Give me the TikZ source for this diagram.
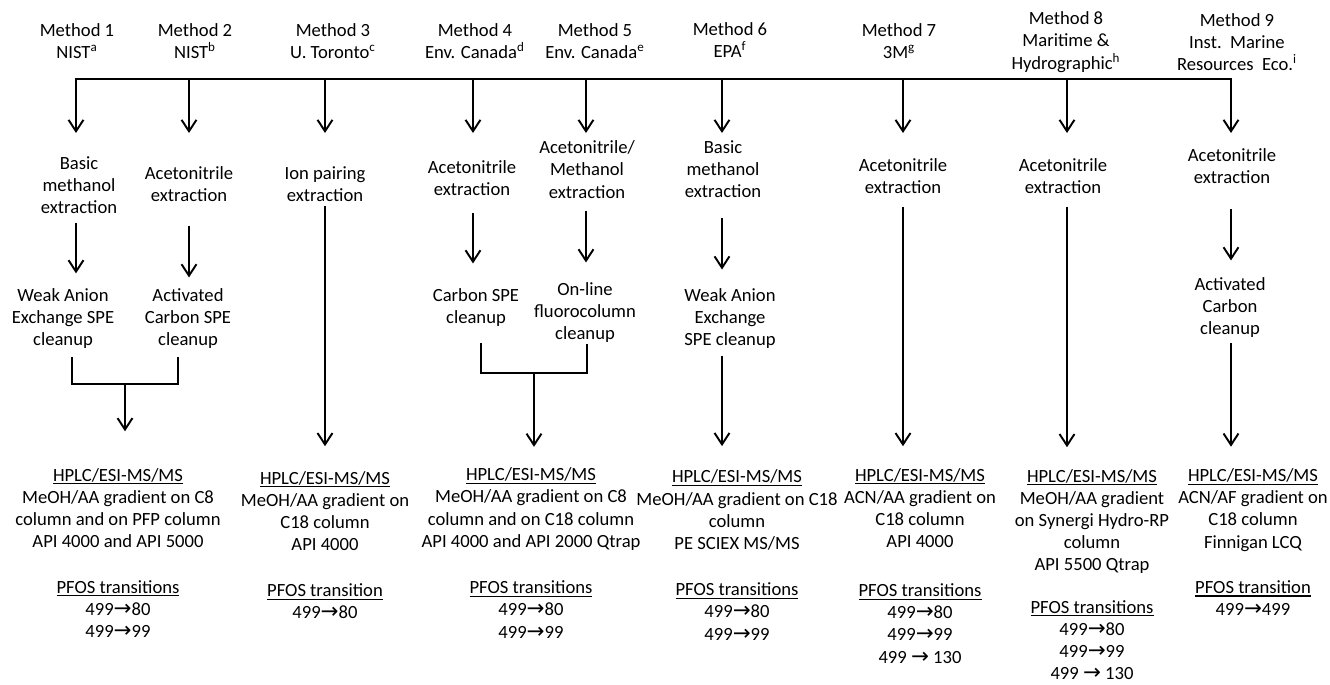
\documentclass[tikz,border=0pt]{standalone}
\usepackage{fontspec}
\setmainfont{Carlito}
\newfontfamily\arrowfont[Scale=1.15]{DejaVu Sans}
\usetikzlibrary{arrows.meta}
\newcommand{\undl}[1]{\setbox0=\hbox{#1}\rlap{\rule[-1.8pt]{\wd0}{0.7pt}}\box0}
\newcommand{\pfarrow}{{\arrowfont →}}
\begin{document}
\begin{tikzpicture}[x=0.02cm,y=-0.02cm,line width=1.1pt,
  txt/.style={align=center,inner sep=0pt,font=\fontsize{10.6}{12.6}\selectfont},
  arr/.style={-{Straight Barb[length=6.5pt,width=8.5pt]}}]
\useasboundingbox (0,0) rectangle (1330,684);
%methods
\node[txt] (h1) at (77,41) {Method 1\\NIST\textsuperscript{a}};
\node[txt] (h2) at (195,41) {Method 2\\NIST\textsuperscript{b}};
\node[txt] (h3) at (333,41) {Method 3\\U. Toronto\textsuperscript{c}};
\node[txt] (h4) at (475,41) {Method 4\\Env. Canada\textsuperscript{d}};
\node[txt] (h5) at (595,41) {Method 5\\Env. Canada\textsuperscript{e}};
\node[txt] (h6) at (730,40) {Method 6\\EPA\textsuperscript{f}};
\node[txt] (h7) at (899,41) {Method 7\\3M\textsuperscript{g}};
\node[txt] (h8) at (1066,42) {Method 8\\Maritime \&\\Hydrographic\textsuperscript{h}};
\node[txt] (h9) at (1237,42) {Method 9\\Inst.\ \ Marine\\Resources\ \ Eco.\textsuperscript{i}};
%extraction
\node[txt] (e1) at (79,185) {Basic\\methanol\\extraction};
\node[txt] (e2) at (189,184.5) {Acetonitrile\\extraction};
\node[txt] (e3) at (325,184.5) {Ion pairing\\extraction};
\node[txt] (e4) at (472,178.5) {Acetonitrile\\extraction};
\node[txt] (e5) at (587,169.5) {Acetonitrile/\\Methanol\\extraction};
\node[txt] (e6) at (723,169.5) {Basic\\methanol\\extraction};
\node[txt] (e7) at (903,176) {Acetonitrile\\extraction};
\node[txt] (e8) at (1063,176) {Acetonitrile\\extraction};
\node[txt] (e9) at (1232,166.5) {Acetonitrile\\extraction};
%cleanup
\node[txt] (c1) at (63,318.5) {Weak Anion\\Exchange SPE\\cleanup};
\node[txt] (c2) at (188,318.5) {Activated\\Carbon SPE\\cleanup};
\node[txt] (c4) at (476,307.5) {Carbon SPE\\cleanup};
\node[txt] (c5) at (585,312.5) {On-line\\fluorocolumn\\cleanup};
\node[txt] (c6) at (730,318.5) {Weak Anion\\Exchange\\SPE cleanup};
\node[txt] (c9) at (1230,307.5) {Activated\\Carbon\\cleanup};
%hplc
\node[txt] (p12) at (118,508) {\undl{HPLC/ESI-MS/MS}\\MeOH/AA gradient on C8\\column and on PFP column\\API 4000 and API 5000};
\node[txt] (p3) at (325,511) {\undl{HPLC/ESI-MS/MS}\\MeOH/AA gradient on\\C18 column\\API 4000};
\node[txt] (p45) at (531,509) {\undl{HPLC/ESI-MS/MS}\\MeOH/AA gradient on C8\\column and on C18 column\\API 4000 and API 2000 Qtrap};
\node[txt] (p6) at (737,510) {\undl{HPLC/ESI-MS/MS}\\MeOH/AA gradient on C18\\column\\PE SCIEX MS/MS};
\node[txt] (p7) at (920,508) {\undl{HPLC/ESI-MS/MS}\\ACN/AA gradient on\\C18 column\\API 4000};
\node[txt] (p8) at (1092,521.5) {\undl{HPLC/ESI-MS/MS}\\MeOH/AA gradient\\on Synergi Hydro-RP\\column\\API 5500 Qtrap};
\node[txt] (p9) at (1253,510) {\undl{HPLC/ESI-MS/MS}\\ACN/AF gradient on\\C18 column\\Finnigan LCQ};
%transitions
\node[txt] (q12) at (118,609) {\undl{PFOS transitions}\\499\pfarrow80\\499\pfarrow99};
\node[txt] (q3) at (325,601.5) {\undl{PFOS transition}\\499\pfarrow80};
\node[txt] (q45) at (531,609.5) {\undl{PFOS transitions}\\499\pfarrow80\\499\pfarrow99};
\node[txt] (q6) at (737,611.5) {\undl{PFOS transitions}\\499\pfarrow80\\499\pfarrow99};
\node[txt] (q7) at (920,623.5) {\undl{PFOS transitions}\\499\pfarrow80\\499\pfarrow99\\499 \pfarrow\ 130};
\node[txt] (q8) at (1092,640) {\undl{PFOS transitions}\\499\pfarrow80\\499\pfarrow99\\499 \pfarrow\ 130};
\node[txt] (q9) at (1253,598) {\undl{PFOS transition}\\499\pfarrow499};
%bus
\foreach \i/\x in {1/76,2/189,3/325,4/473,5/586,6/722,7/903,8/1067,9/1231}{
  \coordinate (t\i) at (\x,79);
  \coordinate (a\i) at (\x,133);}
\draw[line cap=rect] (t1)--(t9);
\foreach \i in {1,...,9}{\draw[arr] (t\i)--(a\i);}
%steps
\foreach \m/\s/\f in {1/4.6/8,2/13/5.7,4/9.1/13.7,5/6.8/10.8,6/10.8/10.2,9/13.7/9.1}{
  \draw[arr,shorten <=\s pt,shorten >=\f pt] (e\m.south -| t\m)--(c\m.north -| t\m);}
\foreach \u/\v/\m/\s/\f in {e3/p3/3/1.7/13.7,e7/p7/7/6.8/12,e8/p8/8/6.8/12,c6/p6/6/3.4/13,c9/p9/9/2.8/12}{
  \draw[arr,shorten <=\s pt,shorten >=\f pt] (\u.south -| t\m)--(\v.north -| t\m);}
%merge
\coordinate (k1) at (72,384);
\coordinate (k2) at (178,384);
\coordinate (j12) at (125,384);
\draw[shorten <=4pt,shorten >=4pt] (c1.south -| k1)--(k1)--(k2)--(c2.south -| k2);
\draw[arr,shorten >=20.5pt] (j12)--(p12.north -| j12);
\coordinate (k4) at (481,373);
\coordinate (k5) at (587,373);
\coordinate (j45) at (534,373);
\draw[shorten <=9pt] (c4.south -| k4)--(k4)--(k5)--(c5.south -| k5);
\draw[arr,shorten >=11.4pt] (j45)--(p45.north -| j45);
\end{tikzpicture}
\end{document}
